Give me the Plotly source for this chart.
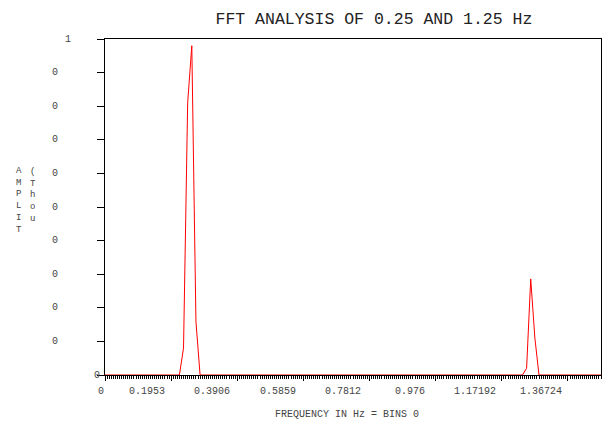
import plotly.graph_objects as go

# ---- data ----
BIN_HZ = 0.01220703125  # frequency spacing of the spectrum points
amplitude = [
    0, 0, 0, 0, 0, 0, 0, 0, 0, 0,
    0, 0, 0, 0, 0, 0, 0, 0, 0, 0.08,
    0.81, 0.98, 0.16, 0, 0, 0, 0, 0, 0, 0,
    0, 0, 0, 0, 0, 0, 0, 0, 0, 0,
    0, 0, 0, 0, 0, 0, 0, 0, 0, 0,
    0, 0, 0, 0, 0, 0, 0, 0, 0, 0,
    0, 0, 0, 0, 0, 0, 0, 0, 0, 0,
    0, 0, 0, 0, 0, 0, 0, 0, 0, 0,
    0, 0, 0, 0, 0, 0, 0, 0, 0, 0,
    0, 0, 0, 0, 0, 0, 0, 0, 0, 0,
    0, 0, 0.02, 0.286, 0.11, 0, 0, 0, 0, 0,
    0, 0, 0, 0, 0, 0, 0, 0, 0, 0,
    0,
]
freq = [i * BIN_HZ for i in range(len(amplitude))]

x_tick_labels = ["0", "0.1953", "0.3906", "0.5859", "0.7812", "0.976", "1.17192", "1.36724"]
x_label_pos = [-0.011, 0.125, 0.316, 0.510, 0.704, 0.902, 1.094, 1.289]
y_tick_vals = [0, 0.1, 0.2, 0.3, 0.4, 0.5, 0.6, 0.7, 0.8, 0.9, 1.0]
y_tick_labels = ["0", "0", "0", "0", "0", "0", "0", "0", "0", "0", "1"]

X_MAX = 1.46484375
MAJOR = 0.1953125
FONT = "Liberation Mono, Courier New, monospace"
TXT = "#444444"

# plot area in pixels (for placing free text relative to the frame)
L, R, T, B = 105, 601, 39, 375
def px_x(p):
    return (p - L) / (R - L)
def px_y(p):
    return (B - p) / (B - T)

fig = go.Figure()
fig.add_trace(go.Scatter(x=freq, y=amplitude, mode="lines",
                         line=dict(color="#ff0000", width=1), hoverinfo="skip"))

fig.update_layout(
    width=610, height=423,
    margin=dict(l=L, r=610 - R, t=T, b=423 - B),
    paper_bgcolor="white", plot_bgcolor="white",
    showlegend=False,
    font=dict(family=FONT, size=10, color=TXT),
    title=dict(text="FFT ANALYSIS OF 0.25 AND 1.25 Hz", xref="container", yref="container",
               x=0.613, y=0.957, xanchor="center", yanchor="middle",
               font=dict(family=FONT, size=16.5, color="#222222")),
)
fig.update_xaxes(range=[0, X_MAX], showgrid=False, zeroline=False,
                 showline=True, linecolor="black", linewidth=1, mirror=True,
                 ticks="outside", tick0=0, dtick=MAJOR, ticklen=5, tickcolor="black",
                 showticklabels=False, layer="below traces",
                 minor=dict(ticks="outside", dtick=MAJOR / 32, tick0=0, ticklen=3,
                            tickcolor="black", showgrid=False))
fig.update_yaxes(range=[0, 1], showgrid=False, zeroline=False,
                 showline=True, linecolor="black", linewidth=1, mirror=True,
                 ticks="outside", tickvals=y_tick_vals, ticklen=7, tickcolor="black",
                 showticklabels=False, layer="below traces")

ann = []
for t, p in zip(x_tick_labels, x_label_pos):
    ann.append(dict(x=p / X_MAX, y=0, xref="paper", yref="paper", text=t, showarrow=False,
                    xanchor="center", yanchor="middle", yshift=-16,
                    font=dict(family=FONT, size=10, color=TXT)))
for v, t in zip(y_tick_vals, y_tick_labels):
    if v == 0:
        shift = -8
    elif v == 1.0:
        shift = -37
    else:
        shift = -50
    ann.append(dict(x=0, y=v, xref="paper", yref="y", text=t, showarrow=False,
                    xanchor="center", yanchor="middle", xshift=shift,
                    font=dict(family=FONT, size=10, color=TXT)))
ann.append(dict(x=0.488, y=0, xref="paper", yref="paper", text="FREQUENCY IN Hz = BINS 0",
                showarrow=False, xanchor="center", yanchor="middle", yshift=-39,
                font=dict(family=FONT, size=10, color=TXT)))
ann.append(dict(x=px_x(19), y=px_y(201), xref="paper", yref="paper",
                text="A<br>M<br>P<br>L<br>I<br>T", showarrow=False, align="center",
                xanchor="center", yanchor="middle",
                font=dict(family=FONT, size=9, color=TXT)))
ann.append(dict(x=px_x(33), y=px_y(195.5), xref="paper", yref="paper",
                text="(<br>T<br>h<br>o<br>u", showarrow=False, align="center",
                xanchor="center", yanchor="middle",
                font=dict(family=FONT, size=9, color=TXT)))
fig.update_layout(annotations=ann)

fig.write_html("out.html")
